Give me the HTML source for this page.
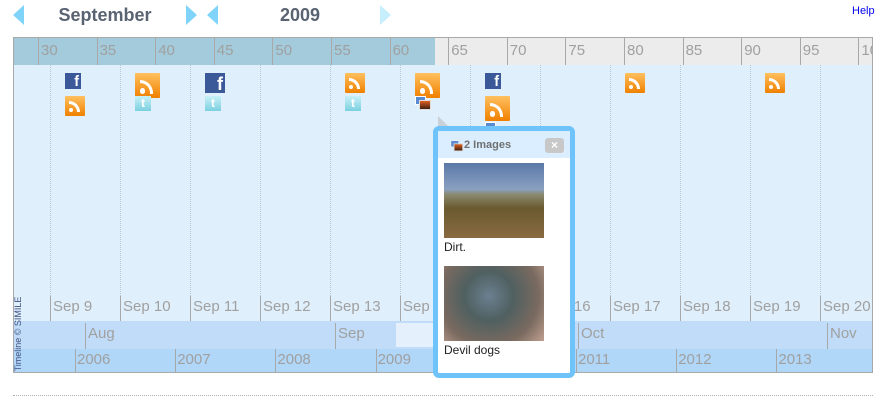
<!DOCTYPE html>
<html><head><meta charset="utf-8">
<style>
body{margin:0;width:886px;height:405px;background:#fff;font-family:"Liberation Sans",sans-serif;position:relative;overflow:hidden}
.abs{position:absolute}
.tri{position:absolute;width:0;height:0;border-top:10px solid transparent;border-bottom:10px solid transparent}
.lbl{position:absolute;color:#a0a0a0;font-size:15px;white-space:nowrap}
.tk{position:absolute;width:1px;background:#a8a8a8}
.dot{position:absolute;top:65px;height:232px;border-left:1px dotted #b8c8d8}
.rss{position:absolute;background:linear-gradient(#ffc060,#f08000);border-radius:1px}
.rss:before{content:"";position:absolute;left:18%;bottom:18%;width:22%;height:22%;background:#fff;border-radius:50%}
.rss:after{content:"";position:absolute;left:18%;bottom:18%;width:55%;height:55%;border:3px solid #fff;border-left:none;border-bottom:none;border-radius:0 100% 0 0;box-sizing:border-box}
.fb{position:absolute;background:#3b5998;color:#fff;font-weight:bold;text-align:right;overflow:hidden;font-family:"Liberation Sans",sans-serif}
.tw{position:absolute;width:16px;height:15px;background:linear-gradient(#c8f0f8,#7cd0e0);color:#fff;font-size:12px;font-weight:bold;text-align:center;line-height:15px}
.img{position:absolute;width:14px;height:12px}
.img:before{content:"";position:absolute;left:0;top:0;width:9px;height:7px;background:#5a8ad0;border:1px solid #fff}
.img:after{content:"";position:absolute;left:4px;top:4px;width:10px;height:8px;background:linear-gradient(#e06020,#402010);border:1px solid #ddd}
</style></head><body>
<div class="tri" style="left:13px;top:5px;border-right:11px solid #80d4fa"></div>
<div class="abs" style="left:40px;top:5px;width:130px;text-align:center;font-size:18px;font-weight:bold;color:#5a6372">September</div>
<div class="tri" style="left:186px;top:5px;border-left:11px solid #80d4fa"></div>
<div class="tri" style="left:207px;top:5px;border-right:11px solid #80d4fa"></div>
<div class="abs" style="left:250px;top:5px;width:100px;text-align:center;font-size:18px;font-weight:bold;color:#5a6372">2009</div>
<div class="tri" style="left:380px;top:5px;border-left:11px solid #c6eefc"></div>
<div class="abs" style="left:852px;top:5px;font-size:11px;color:#0000ee">Help</div>

<div class="abs" id="tl" style="left:13px;top:37px;width:858px;height:334px;border:1px solid #a8a8a8;overflow:hidden;background:#e0effc">
  <div class="abs" style="left:0;top:0;width:858px;height:27px;background:#ececec"></div>
  <div class="abs" style="left:0;top:0;width:421px;height:27px;background:#a3cbdc"></div>
  <div class="abs" style="left:0;top:283px;width:858px;height:28px;background:#c0dcf8"></div>
  <div class="abs" style="left:382px;top:285px;width:40px;height:24px;background:#e4f0fc"></div>
  <div class="abs" style="left:0;top:311px;width:858px;height:23px;background:#b0d6f8"></div>
  <div class="abs" style="left:-36px;top:290px;width:80px;height:12px;line-height:12px;font-size:9px;color:#405080;transform:rotate(-90deg);transform-origin:center;white-space:nowrap;text-align:center">Timeline © SIMILE</div>
</div>
<div class="abs" style="left:13px;top:395px;width:860px;border-top:1px dotted #b0b0b0"></div>

<div class="abs" style="left:438px;top:116px;width:0;height:0;border-left:12px solid #c8d0d8;border-top:12px solid transparent"></div>
<div class="abs" style="left:433px;top:126px;width:132px;height:242px;border:5px solid #6ec3fb;border-radius:6px;background:#fff">
  <div class="abs" style="left:0;top:0;width:132px;height:27px;background:#dbeeff"></div>
  <div class="img" style="left:11px;top:8px;transform:scale(.8)"></div>
  <div class="abs" style="left:26px;top:8px;font-size:11px;font-weight:bold;color:#707070">2 Images</div>
  <div class="abs" style="left:107px;top:7px;width:19px;height:15px;background:#c8c8c8;border-radius:3px;color:#fff;font-size:12px;font-weight:bold;text-align:center;line-height:15px">×</div>
  <div class="abs" style="left:6px;top:32px;width:100px;height:75px;background:linear-gradient(#5a78a8 0%,#8aa0c0 35%,#8a8a70 42%,#6a5a30 60%,#8a6a40 100%)"></div>
  <div class="abs" style="left:6px;top:109px;font-size:12px;color:#222">Dirt.</div>
  <div class="abs" style="left:6px;top:135px;width:100px;height:75px;background:radial-gradient(circle at 45% 40%,#6a8090 0%,#506060 35%,#7a6a60 70%,#c0a090 100%)"></div>
  <div class="abs" style="left:6px;top:212px;font-size:12px;color:#222">Devil dogs</div>
</div>

<script>
const minuteLabels=["30","35","40","45","50","55","60","65","70","75","80","85","90","95","100"];
const dayLabels=["Sep 9","Sep 10","Sep 11","Sep 12","Sep 13","Sep 14","Sep 15","Sep 16","Sep 17","Sep 18","Sep 19","Sep 20"];
const monthLabels=["Aug","Sep","Oct","Nov"];
const monthPos=[71,321,564,813];
const yearLabels=["2006","2007","2008","2009","2010","2011","2012","2013"];
const events=[["fb",0,0,16],["rss",0,1,20],["rss",1,0,25],["tw",1,1,16],["fb",2,0,20],["tw",2,1,16],["rss",4,0,20],["tw",4,1,16],["rss",5,0,25],["img",5,1,14],["fb",6,0,16],["rss",6,1,25],["img",6,2,14],["rss",8,0,20],["rss",10,0,20]];
const tl=document.getElementById('tl');
function mk(cls,x,y,h){const d=document.createElement('div');d.className=cls;d.style.left=x+'px';d.style.top=y+'px';if(h)d.style.height=h+'px';tl.appendChild(d);return d;}
minuteLabels.forEach((t,i)=>{const x=24+i*58.6;
 const k=mk('tk',x,0,27);
 const l=mk('lbl',x+3,4);l.textContent=t;});
dayLabels.forEach((t,i)=>{const x=36+i*70;
 const d=mk('dot',x,27);d.style.top='27px';d.style.height='233px';
 const k=mk('tk',x,258,25);
 const l=mk('lbl',x+3,260);l.textContent=t;});
monthLabels.forEach((t,i)=>{const x=monthPos[i];
 const k=mk('tk',x,285,26);
 const l=mk('lbl',x+3,287);l.textContent=t;});
yearLabels.forEach((t,i)=>{const x=61+i*100.2;
 const k=mk('tk',x,311,23);
 const l=mk('lbl',x+2,313);l.textContent=t;});
events.forEach(e=>{const [type,col,row,sz]=e;const x=51+col*70;const y=[35,58,84][row];
 const d=mk(type,x,y);
 if(type=='rss'||type=='fb'){d.style.width=sz+'px';d.style.height=sz+'px';}
 if(type=='fb'){d.textContent='f';d.style.fontSize=(sz*0.9)+'px';d.style.lineHeight=(sz*1.15)+'px';d.style.paddingRight='2px';d.style.boxSizing='border-box';}
 if(type=='tw'){d.textContent='t';}
 
 });
</script>
</body></html>
